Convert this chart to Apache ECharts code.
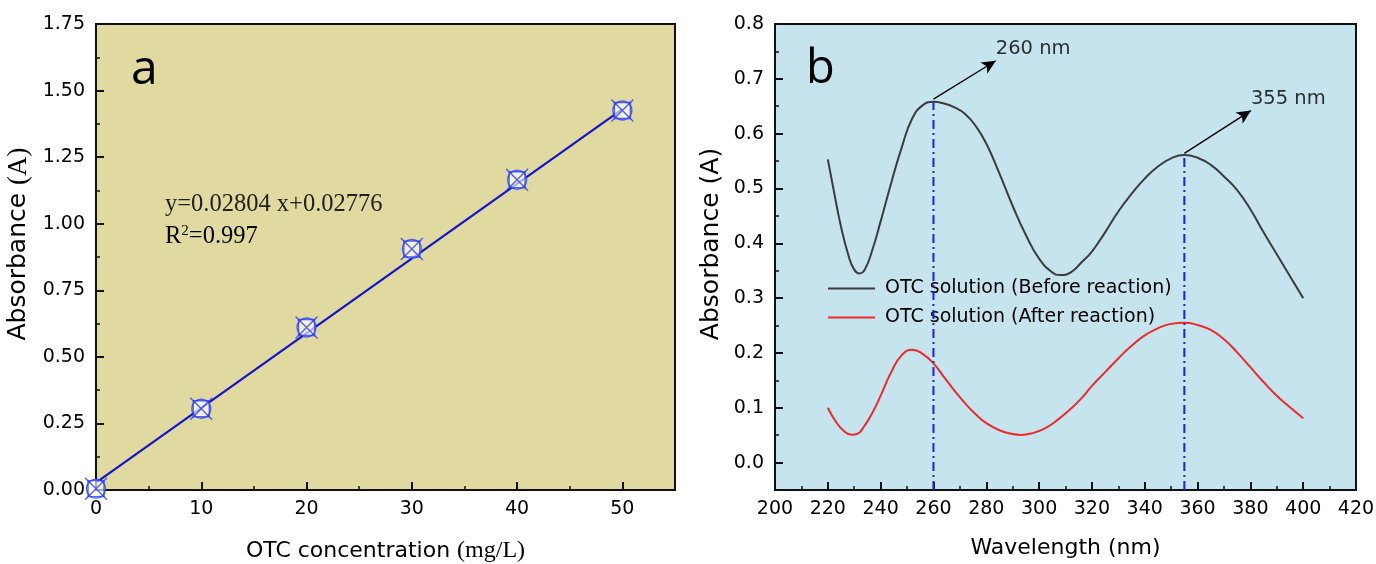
<!DOCTYPE html>
<html><head><meta charset="utf-8">
<script src="https://cdn.jsdelivr.net/npm/echarts@6/dist/echarts.min.js"></script>
<style>html,body{margin:0;padding:0;background:#fff}#c{width:1376px;height:564px}</style>
</head><body><div id="c"></div>
<script>
// ---- Panel a data ----
const concX = [0, 10, 20, 30, 40, 50];
const absA = [0.005, 0.305, 0.61, 0.905, 1.165, 1.425];
const fitX = [0, 50];
const fitY = [0.028, 1.43];
const xTicksA = [0, 10, 20, 30, 40, 50];
const yTicksA = [0, 0.25, 0.5, 0.75, 1.0, 1.25, 1.5, 1.75];
// ---- Panel b data ----
const wlBefore = [220,222.5,225,228,230,232,234,237,240,244,248,252,256,260,264,268,272,276,280,285,290,295,300,305,308,312,316,320,325,330,335,340,345,350,355,360,365,370,375,380,385,390,395,400];
const absBefore = [0.553,0.49,0.43,0.375,0.352,0.345,0.352,0.39,0.44,0.51,0.575,0.628,0.652,0.658,0.655,0.648,0.636,0.614,0.582,0.527,0.468,0.415,0.372,0.347,0.342,0.347,0.365,0.385,0.42,0.458,0.49,0.518,0.54,0.555,0.561,0.556,0.543,0.522,0.497,0.462,0.42,0.38,0.34,0.300];
const wlAfter = [220,223,226,229,231,234,237,240,244,248,252,256,260,264,268,272,276,280,285,290,293,297,302,307,312,316,320,325,330,335,340,345,350,355,360,365,370,375,380,385,390,395,400];
const absAfter = [0.100,0.075,0.058,0.051,0.052,0.068,0.092,0.122,0.165,0.196,0.206,0.198,0.181,0.156,0.131,0.108,0.088,0.072,0.059,0.052,0.0505,0.053,0.062,0.078,0.098,0.117,0.140,0.165,0.19,0.213,0.232,0.245,0.253,0.255,0.251,0.242,0.225,0.201,0.174,0.147,0.122,0.101,0.081];
const peakWl = [260, 355];
const peakAbs = [0.658, 0.561];
const arrowStartAbs = [0.663, 0.564];
const arrowTipWl = [283.6, 380.2];
const arrowTipAbs = [0.733, 0.642];
const peakLabels = ['260 nm', '355 nm'];
const xTicksB = [200,220,240,260,280,300,320,340,360,380,400,420];
const yTicksB = [0, 0.1, 0.2, 0.3, 0.4, 0.5, 0.6, 0.7, 0.8];
const yMinB = -0.05, yMaxB = 0.8;
const seriesNames = ['OTC solution (Before reaction)', 'OTC solution (After reaction)'];

const SANS = 'DejaVu Sans';
const SERIF = 'Liberation Serif';
const tickFont = {fontFamily: SANS, fontSize: 19, color: '#000'};
const axisLine = {show: true, onZero: false, lineStyle: {color: '#111', width: 2}};
const majorTick = {show: true, inside: true, length: 8, lineStyle: {color: '#111', width: 2}};
const minorTickAxis = {show: true, inside: true, length: 4, lineStyle: {color: '#111', width: 1.5}};
const pair = (xs, ys) => xs.map((x, i) => [x, ys[i]]);
const markerBlue = '#2a3cff';

const chart = echarts.init(document.getElementById('c'), null, {renderer: 'canvas'});
chart.setOption({
  animation: false,
  backgroundColor: '#fff',
  grid: [
    {left: 96, right: 701, top: 24, bottom: 74, outerBoundsMode: 'none', containLabel: false, show: true, backgroundColor: '#E0D9A0', borderColor: '#111', borderWidth: 2},
    {left: 775, right: 20, top: 24, bottom: 74, outerBoundsMode: 'none', containLabel: false, show: true, backgroundColor: '#C5E4EE', borderColor: '#111', borderWidth: 2}
  ],
  legend: {
    data: [{name: seriesNames[0], icon: 'rect'}, {name: seriesNames[1], icon: 'rect'}],
    orient: 'vertical', left: 828, top: 279, padding: 0, itemWidth: 47, itemHeight: 2, itemGap: 10,
    textStyle: {fontFamily: SANS, fontSize: 19, color: '#000', lineHeight: 19, padding: [0, 0, 0, 5]},
    selectedMode: false
  },
  xAxis: [
    {gridIndex: 0, type: 'value', min: 0, max: 55, axisLine, splitLine: {show: false},
     axisTick: Object.assign({customValues: xTicksA}, majorTick),
     axisLabel: Object.assign({customValues: xTicksA, margin: 10}, tickFont),
     name: '{s|OTC concentration }{t|(mg/L)}', nameLocation: 'middle', nameGap: 49,
     nameTextStyle: {rich: {s: {fontFamily: SANS, fontSize: 22, color: '#000'}, t: {fontFamily: SERIF, fontSize: 24, color: '#000'}}}},
    {gridIndex: 0, type: 'value', min: 0, max: 55, interval: 5, position: 'bottom', axisLine: {show: false, onZero: false},
     axisTick: minorTickAxis, axisLabel: {show: false}, splitLine: {show: false}},
    {gridIndex: 1, type: 'value', min: 200, max: 420, interval: 20, axisLine, splitLine: {show: false},
     axisTick: majorTick, axisLabel: Object.assign({margin: 10}, tickFont),
     name: 'Wavelength (nm)', nameLocation: 'middle', nameGap: 47,
     nameTextStyle: {fontFamily: SANS, fontSize: 22, color: '#000'}},
    {gridIndex: 1, type: 'value', min: 200, max: 420, interval: 10, position: 'bottom', axisLine: {show: false, onZero: false},
     axisTick: minorTickAxis, axisLabel: {show: false}, splitLine: {show: false}}
  ],
  yAxis: [
    {gridIndex: 0, type: 'value', min: 0, max: 1.75, interval: 0.25, axisLine, splitLine: {show: false},
     axisTick: majorTick,
     axisLabel: Object.assign({margin: 11, formatter: v => v.toFixed(2)}, tickFont),
     name: '{s|Absorbance }{t|(A)}', nameLocation: 'middle', nameGap: 64, nameRotate: 90,
     nameTextStyle: {padding: [0, 0, 0, 26], rich: {s: {fontFamily: SANS, fontSize: 25, color: '#000'}, t: {fontFamily: SERIF, fontSize: 27, color: '#000'}}}},
    {gridIndex: 0, type: 'value', min: 0, max: 1.75, interval: 0.125, position: 'left', axisLine: {show: false, onZero: false},
     axisTick: minorTickAxis, axisLabel: {show: false}, splitLine: {show: false}},
    {gridIndex: 1, type: 'value', min: yMinB, max: yMaxB, axisLine, splitLine: {show: false},
     axisTick: Object.assign({customValues: yTicksB}, majorTick),
     axisLabel: Object.assign({customValues: yTicksB, margin: 11, formatter: v => v.toFixed(1)}, tickFont),
     name: 'Absorbance (A)', nameLocation: 'middle', nameGap: 51, nameRotate: 90,
     nameTextStyle: {fontFamily: SANS, fontSize: 25, color: '#000', padding: [0, 0, 0, 26]}},
    {gridIndex: 1, type: 'value', min: yMinB, max: yMaxB, interval: 0.05, position: 'left', axisLine: {show: false, onZero: false},
     axisTick: minorTickAxis, axisLabel: {show: false}, splitLine: {show: false}}
  ],
  graphic: [
    {type: 'text', left: 131, top: 46, style: {text: 'a', fontFamily: 'Open Sans', fontSize: 48, fill: '#000'}},
    {type: 'text', left: 806, top: 46, style: {text: 'b', fontFamily: 'Open Sans', fontSize: 47, fill: '#000'}},
    {type: 'text', left: 165, top: 192, style: {text: 'y=0.02804 x+0.02776', fontFamily: SERIF, fontSize: 24.5, fill: '#222'}},
    {type: 'text', left: 165, top: 224, style: {
      text: '{r|R}{sup|2}{r|=0.997}',
      rich: {r: {fontFamily: SERIF, fontSize: 24.5, color: '#222'}, sup: {fontFamily: SERIF, fontSize: 15, color: '#222', verticalAlign: 'top', padding: [0, 0, 10, 0]}}
    }}
  ],
  series: [
    {type: 'line', xAxisIndex: 0, yAxisIndex: 0, data: pair(fitX, fitY), symbol: 'none',
     lineStyle: {color: '#1414cc', width: 2.2}, z: 2},
    {type: 'scatter', xAxisIndex: 0, yAxisIndex: 0, clip: true, data: pair(concX, absA), symbol: 'circle', symbolSize: 19,
     itemStyle: {color: 'rgba(255,255,255,0.8)', borderColor: markerBlue, borderWidth: 1.4}, z: 3},
    {type: 'scatter', xAxisIndex: 0, yAxisIndex: 0, clip: true, data: pair(concX, absA), symbol: 'rect', symbolSize: 16,
     itemStyle: {color: 'rgba(0,0,0,0)', borderColor: markerBlue, borderWidth: 1.4}, z: 4},
    {type: 'scatter', xAxisIndex: 0, yAxisIndex: 0, clip: true, data: pair(concX, absA), symbol: 'path://M0 0L20 20M20 0L0 20', symbolSize: 22,
     itemStyle: {color: 'rgba(0,0,0,0)', borderColor: markerBlue, borderWidth: 1.4}, z: 5},
    {type: 'line', xAxisIndex: 1, yAxisIndex: 1, data: [], symbol: 'none'},
    {type: 'line', name: seriesNames[0], xAxisIndex: 2, yAxisIndex: 2, data: pair(wlBefore, absBefore), symbol: 'none', smooth: 0.5,
     lineStyle: {color: '#3c3c3c', width: 2}, itemStyle: {color: '#3c3c3c'}, z: 3,
     markLine: {silent: true, symbol: ['none', 'arrow'], symbolSize: [10, 14], label: {show: false},
       lineStyle: {color: '#000', type: 'solid', width: 1.3},
       data: peakWl.map((w, i) => [{coord: [w, arrowStartAbs[i]]}, {coord: [arrowTipWl[i], arrowTipAbs[i]]}])}},
    {type: 'line', name: seriesNames[1], xAxisIndex: 2, yAxisIndex: 2, data: pair(wlAfter, absAfter), symbol: 'none', smooth: 0.5,
     lineStyle: {color: '#ee2a2a', width: 2}, itemStyle: {color: '#ee2a2a'}, z: 3},
    ...peakWl.map((w, i) => ({type: 'line', xAxisIndex: 2, yAxisIndex: 2, data: [[w, yMinB], [w, peakAbs[i]]], symbol: 'none',
      lineStyle: {color: '#1f1fe6', width: 2, type: [9, 4, 2, 4]}, z: 4})),
    {type: 'scatter', xAxisIndex: 2, yAxisIndex: 2, data: pair(arrowTipWl, arrowTipAbs), symbolSize: 0, silent: true,
     label: {show: true, formatter: p => peakLabels[p.dataIndex], position: [0, -12], align: 'left', verticalAlign: 'middle',
       fontFamily: SANS, fontSize: 19.5, color: '#000'}},
    {type: 'line', xAxisIndex: 3, yAxisIndex: 3, data: [], symbol: 'none'}
  ]
});
</script></body></html>
